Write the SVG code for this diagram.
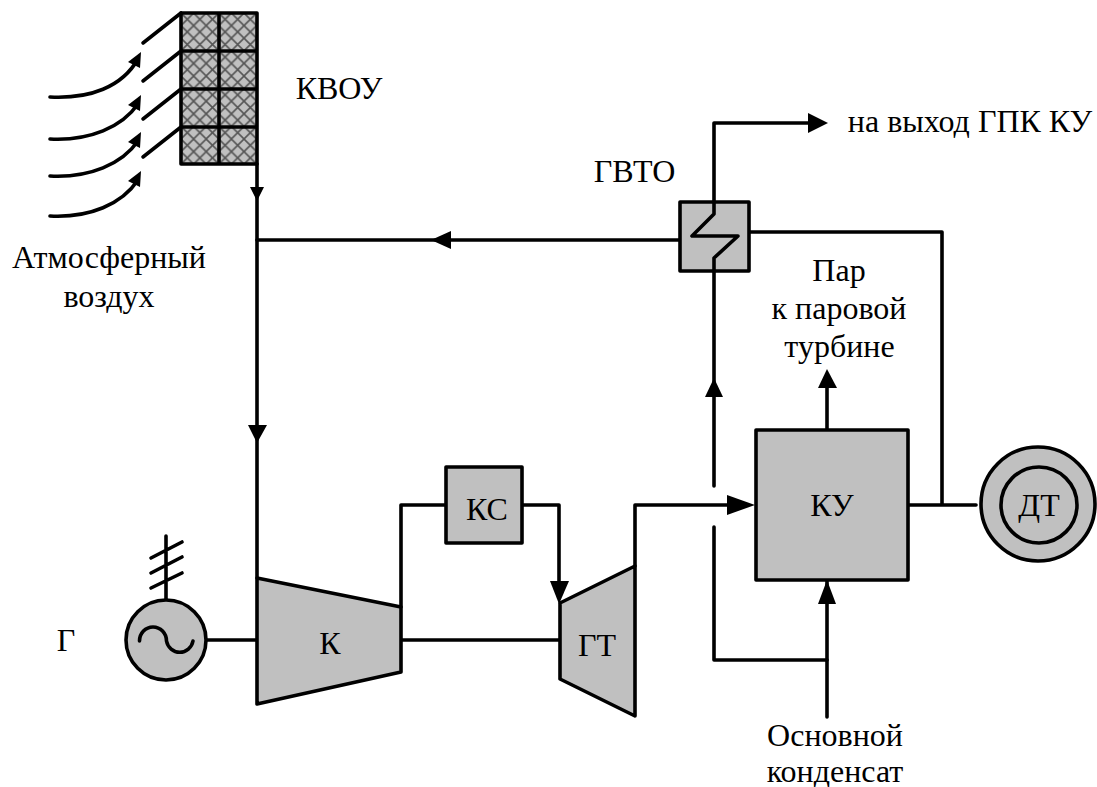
<svg xmlns="http://www.w3.org/2000/svg" width="1097" height="787" viewBox="0 0 1097 787">
<defs>
<pattern id="hatch" width="12.6" height="12.6" patternUnits="userSpaceOnUse" x="181" y="13">
<rect width="12.6" height="12.6" fill="#c0c0c0"/>
<path d="M0 0L12.6 12.6M12.6 0L0 12.6" stroke="#555" stroke-width="1.6"/>
</pattern>
</defs>
<style>
.l{fill:none;stroke:#000;stroke-width:3.6;stroke-linecap:round;stroke-linejoin:round}
.n{fill:#c0c0c0;stroke:#000;stroke-width:3.6;stroke-linejoin:round}
.t{font-family:"Liberation Serif","Times New Roman",serif;font-size:32px;fill:#000;text-anchor:middle}
.h{fill:#000}
</style>
<rect width="1097" height="787" fill="#fff"/>
<g id="connectors">
<path class="l" d="M257 164V578"/>
<path class="h" d="M250 187H264L257 201zM248 425H267L257 443z"/>
<path class="l" d="M257 240H680"/>
<path class="h" d="M431 240L451 231V249z"/>
<path class="l" d="M749 232H942V504"/>
<path class="l" d="M714 271V486"/>
<path class="h" d="M714 378L723 397H705z"/>
<path class="l" d="M714 202V123H810"/>
<path class="h" d="M828 123L808 113V133z"/>
<path class="l" d="M714 527V660H827"/>
<path class="l" d="M827 717V580"/>
<path class="h" d="M827 580L836 604H818z"/>
<path class="l" d="M827 430V388"/>
<path class="h" d="M827 369L837 388H818z"/>
<path class="l" d="M635 566V505H730"/>
<path class="h" d="M755 505L727 495V515z"/>
<path class="l" d="M401 607V505H446"/>
<path class="l" d="M522 505H559V585"/>
<path class="h" d="M559 604L550 581H569z"/>
<path class="l" d="M401 640H560"/>
<path class="l" d="M206 640H257"/>
<path class="l" d="M908 505H976"/>
<g id="air-flows">
<path class="l" d="M50 97C90 99 122 87 138 59"/>
<path class="h" d="M141 52L128 62L140 68z"/>
<path class="l" d="M50 139C90 141 122 127 138 104"/>
<path class="h" d="M141 95L128 105L140 111z"/>
<path class="l" d="M50 176C90 178 122 164 138 141"/>
<path class="h" d="M141 132L128 142L140 148z"/>
<path class="l" d="M50 216C90 218 122 204 138 180"/>
<path class="h" d="M141 171L128 181L140 187z"/>
</g>
</g>
<g id="kvou">
<rect x="181" y="13" width="76" height="151" fill="url(#hatch)"/>
<path class="l" d="M181 164V13H257V164H181M219 13V164M181 51H257M181 89H257M181 127H257"/>
<path class="l" d="M181 13L143 43M181 51L143 81M181 89L143 119M181 127L143 157"/>
<text class="t" x="339" y="99">КВОУ</text>
</g>
<text class="t" x="109" y="268">Атмосферный</text>
<text class="t" x="109" y="307">воздух</text>
<g id="gvto">
<rect class="n" x="680" y="202" width="69" height="69"/>
<path class="l" d="M714 202V214L692 236H738L714 258V271"/>
<text class="t" x="634.500" y="182">ГВТО</text>
</g>
<text class="t" x="970" y="132">на выход ГПК КУ</text>
<text class="t" x="839" y="281">Пар</text>
<text class="t" x="839" y="319">к паровой</text>
<text class="t" x="839.500" y="357">турбине</text>
<g id="ku"><rect class="n" x="756" y="430" width="152" height="150"/><text class="t" x="832" y="516">КУ</text></g>
<g id="dt"><circle class="n" cx="1038" cy="504" r="57"/><circle class="n" cx="1039" cy="505" r="38"/><text class="t" x="1039" y="516">ДТ</text></g>
<g id="ks"><rect class="n" x="446" y="467" width="76" height="76"/><text class="t" x="487" y="520">КС</text></g>
<g id="k"><path class="n" d="M257 578L401 607V672L257 704z"/><text class="t" x="330" y="654">К</text></g>
<g id="gt"><path class="n" d="M560 603L635 566V716L560 679z"/><text class="t" x="597" y="656">ГТ</text></g>
<g id="g">
<circle class="n" cx="166" cy="640" r="40"/>
<path class="l" d="M139.500 641A13.500 14 0 0 1 166.500 641A13.500 14 0 0 0 193 641"/>
<path class="l" d="M166 536V599M151 558L182 542M151 573L182 557M151 588L182 573"/>
<text class="t" x="66" y="651">Г</text>
</g>
<text class="t" x="835" y="746">Основной</text>
<text class="t" x="835" y="782">конденсат</text>
</svg>
